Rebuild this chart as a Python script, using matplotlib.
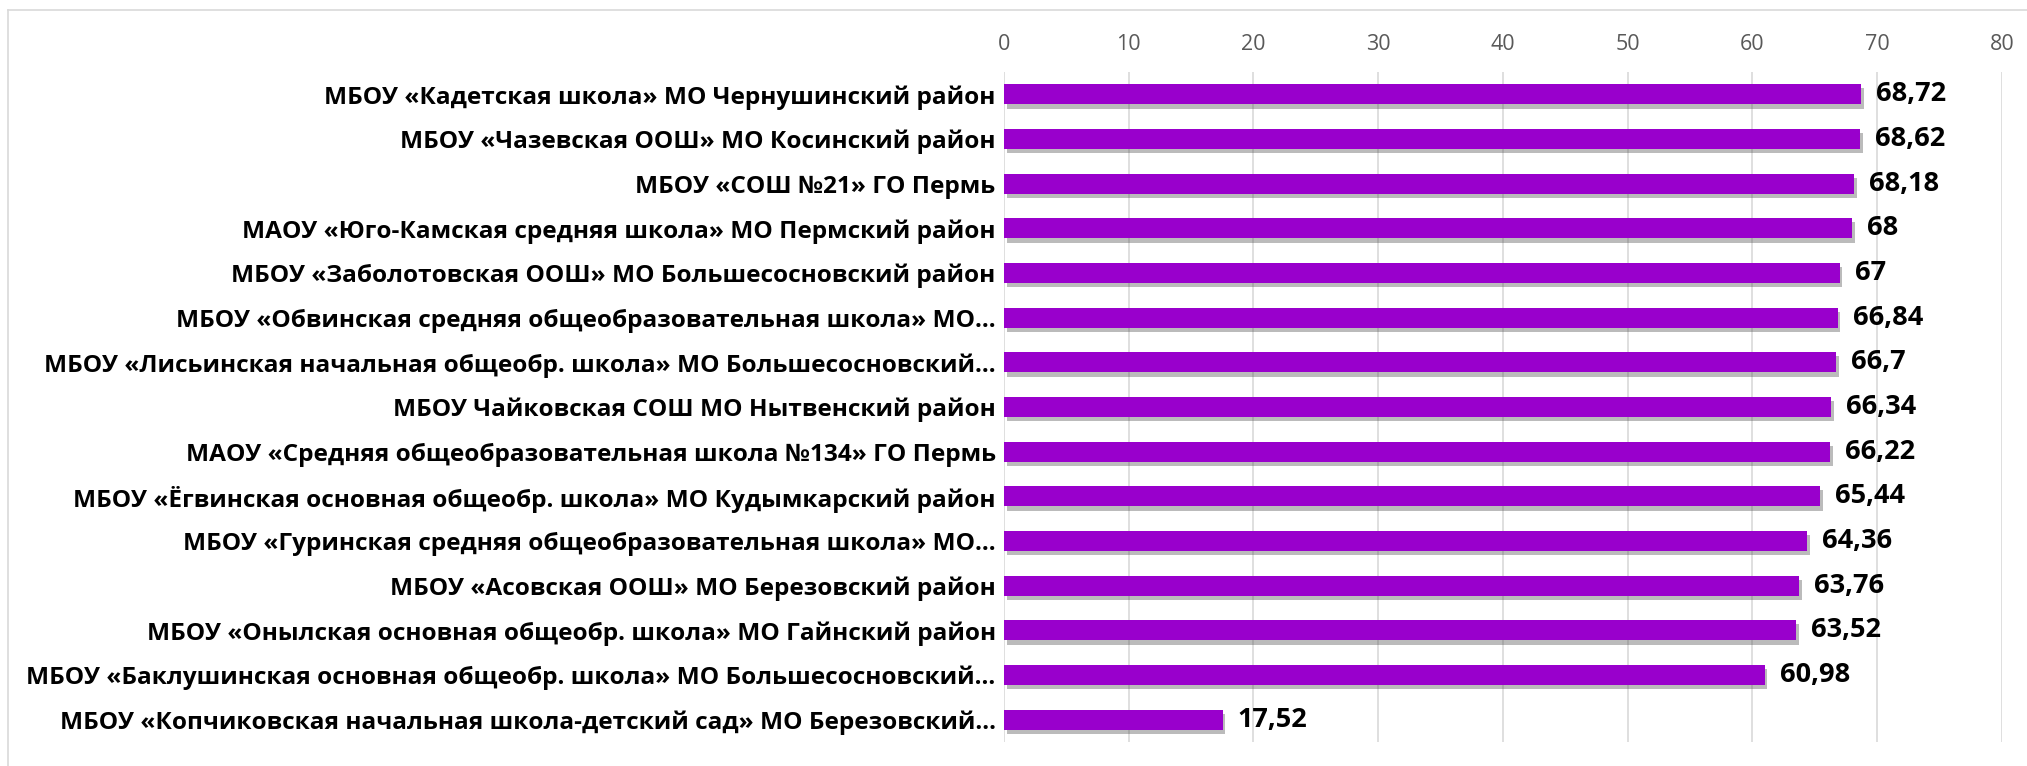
import matplotlib.pyplot as plt
import matplotlib.patheffects as pe
from matplotlib.lines import Line2D

schools = [
    "МБОУ «Кадетская школа» МО Чернушинский район",
    "МБОУ «Чазевская ООШ» МО Косинский район",
    "МБОУ «СОШ №21» ГО Пермь",
    "МАОУ «Юго-Камская средняя школа» МО Пермский район",
    "МБОУ «Заболотовская ООШ» МО Большесосновский район",
    "МБОУ «Обвинская средняя общеобразовательная школа» МО...",
    "МБОУ «Лисьинская начальная общеобр. школа» МО Большесосновский...",
    "МБОУ Чайковская СОШ МО Нытвенский район",
    "МАОУ «Средняя общеобразовательная школа №134» ГО Пермь",
    "МБОУ «Ёгвинская основная общеобр. школа» МО Кудымкарский район",
    "МБОУ «Гуринская средняя общеобразовательная школа» МО...",
    "МБОУ «Асовская ООШ» МО Березовский район",
    "МБОУ «Онылская основная общеобр. школа» МО Гайнский район",
    "МБОУ «Баклушинская основная общеобр. школа» МО Большесосновский...",
    "МБОУ «Копчиковская начальная школа-детский сад» МО Березовский...",
]
scores = [68.72, 68.62, 68.18, 68, 67, 66.84, 66.7, 66.34, 66.22, 65.44,
          64.36, 63.76, 63.52, 60.98, 17.52]
xticks = [0, 10, 20, 30, 40, 50, 60, 70, 80]

plt.rcParams["font.family"] = ["Open Sans", "DejaVu Sans"]

fig = plt.figure(figsize=(20.27, 7.66), dpi=100)
ax = fig.add_axes([0.4953, 0.0313, 0.4923, 0.8747])

# chart frame: only the top and left edges fall inside the picture
fig.lines.append(Line2D([0.004, 1.0], [0.987, 0.987], transform=fig.transFigure,
                        color="#d9d9d9", lw=1.2))
fig.lines.append(Line2D([0.004, 0.004], [0.0, 0.987], transform=fig.transFigure,
                        color="#d9d9d9", lw=1.2))

ypos = list(range(len(schools)))
bars = ax.barh(ypos, scores, height=0.45, color="#9900cc", zorder=3)
for b in bars:
    b.set_path_effects([pe.SimplePatchShadow(offset=(2, -3), shadow_rgbFace="#555555",
                                             alpha=0.4), pe.Normal()])

for y, v in zip(ypos, scores):
    txt = f"{v:g}".replace(".", ",")
    ax.text(v + 1.2, y, txt, va="center", ha="left", fontsize=19.5,
            fontweight="bold", color="black")

ax.set_xlim(0, 80)
ax.set_ylim(len(schools) - 0.5, -0.5)
ax.set_xticks(xticks)
ax.xaxis.tick_top()
ax.tick_params(axis="x", length=0, labelsize=15.5, labelcolor="#595959", pad=12)
ax.set_yticks(ypos)
ax.set_yticklabels(schools, fontsize=17.6, fontweight="bold")
ax.tick_params(axis="y", length=0, pad=6)
ax.grid(axis="x", color="#d9d9d9", lw=1.2, zorder=0)
for s in ax.spines.values():
    s.set_visible(False)

plt.savefig("out.png", dpi=100)
